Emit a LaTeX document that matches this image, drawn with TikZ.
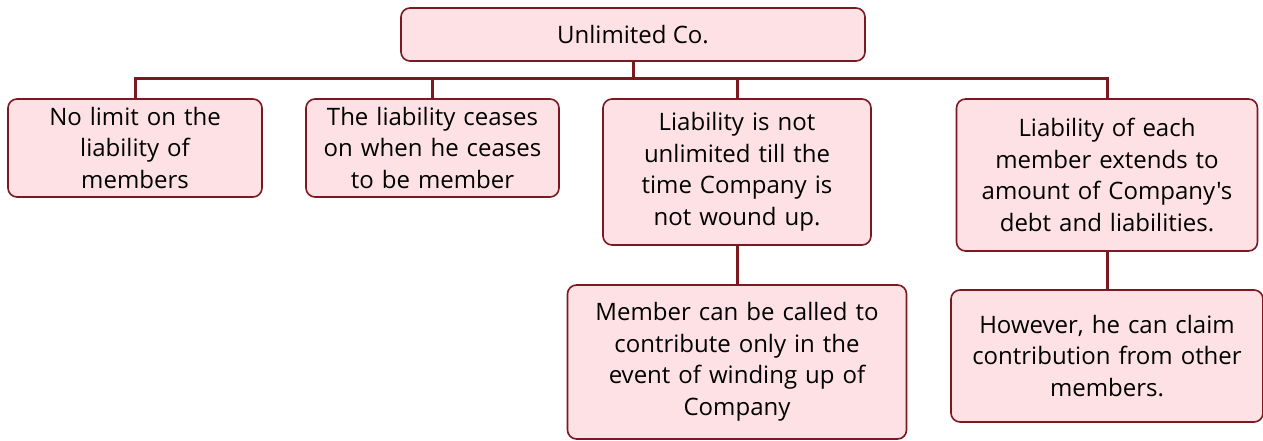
\documentclass[tikz,border=0pt]{standalone}
\usepackage{fontspec}
\setmainfont{Open Sans}[Ligatures=TeXOff]
\definecolor{edge}{HTML}{7B1820}
\definecolor{boxfill}{HTML}{FDE1E4}
\begin{document}
\begin{tikzpicture}[x=1pt,y=-1pt,
  card/.style={draw=edge,fill=boxfill,line width=1.6pt,rounded corners=9pt,
    inner sep=0pt,align=center,font=\fontsize{24}{31.5}\selectfont},
  link/.style={draw=edge,line width=3pt}]
\useasboundingbox (0,0) rectangle (1263,441);
\node[card,minimum width=464pt,minimum height=53pt] (top) at (633,34.5) {Unlimited Co.};
\node[card,minimum width=254pt,minimum height=98pt,text width=250pt] (b1) at (135,148) {No limit on the\\liability of\\members};
\node[card,minimum width=253pt,minimum height=98pt,text width=250pt] (b2) at (432.5,148) {The liability ceases\\on when he ceases\\to be member};
\node[card,minimum width=268pt,minimum height=146pt,text width=265pt] (b3) at (737,172) {Liability is not\\unlimited till the\\time Company is\\not wound up.};
\node[card,minimum width=301pt,minimum height=152pt,text width=298pt] (b4) at (1107,175) {Liability of each\\member extends to\\amount of Company's\\debt and liabilities.};
\node[card,minimum width=339pt,minimum height=154pt,text width=335pt] (b5) at (737,362) {Member can be called to\\contribute only in the\\event of winding up of\\Company};
\node[card,minimum width=312pt,minimum height=132pt,text width=308pt] (b6) at (1107,356) {However, he can claim\\contribution from other\\members.};
\coordinate (bus) at (633,79);
\draw[link] (top.south) -- (bus);
\draw[link] (b1.north) |- (bus) -| (b4.north);
\draw[link] (b2.north) -- (b2.north |- bus);
\draw[link] (b3.north) -- (b3.north |- bus);
\draw[link] (b3.south) -- (b5.north);
\draw[link] (b4.south) -- (b6.north);
\end{tikzpicture}
\end{document}
